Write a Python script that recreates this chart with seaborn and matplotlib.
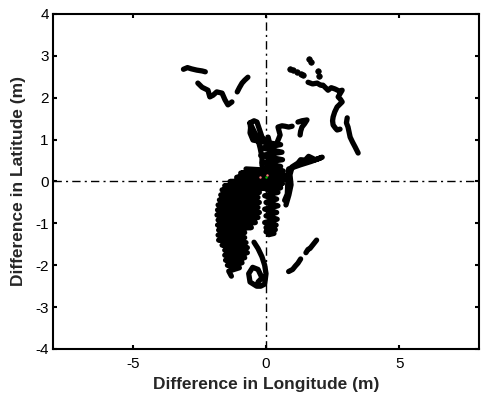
import matplotlib
matplotlib.use("Agg")
import matplotlib.pyplot as plt
import seaborn as sns

# --- trails (metres) ---
nw_bar_x = [-3.10, -2.95, -2.80, -2.60, -2.40, -2.28]
nw_bar_y = [2.68, 2.72, 2.69, 2.66, 2.64, 2.62]

nw_zig_x = [-2.56, -2.40, -2.18, -2.11, -1.99, -1.85, -1.65, -1.54, -1.43, -1.28]
nw_zig_y = [2.35, 2.25, 2.18, 2.02, 2.06, 2.14, 2.11, 1.95, 1.83, 1.90]

nw_dash_x = [-1.08, -1.00, -0.90, -0.80, -0.68]
nw_dash_y = [2.14, 2.24, 2.35, 2.42, 2.49]

ne_dots_x = [0.90, 1.02, 1.17, 1.30, 1.39, 1.62, 1.68, 1.95, 2.00]
ne_dots_y = [2.68, 2.66, 2.61, 2.57, 2.54, 2.93, 2.86, 2.63, 2.52]

ne_main_x = [1.58, 1.75, 1.92, 2.05, 2.14, 2.33, 2.45, 2.59, 2.75, 2.86, 2.71, 2.80, 2.86,
             2.67, 2.58, 2.52, 2.50, 2.52, 2.60, 2.67, 2.78]
ne_main_y = [2.37, 2.33, 2.35, 2.30, 2.30, 2.18, 2.24, 2.21, 2.16, 2.18, 2.02, 1.96, 1.90,
             1.78, 1.66, 1.54, 1.45, 1.35, 1.28, 1.23, 1.25]

ne_tail_x = [3.05, 3.02, 3.08, 3.12, 3.16, 3.25, 3.35, 3.46]
ne_tail_y = [1.52, 1.40, 1.30, 1.18, 1.06, 0.94, 0.82, 0.68]

q_loop_x = [-0.60, -0.45, -0.34, -0.25, -0.15, -0.04, -0.25, -0.49, -0.60, -0.58, -0.60,
            -0.30, -0.22, -0.15, -0.15, -0.10]
q_loop_y = [1.40, 1.45, 1.42, 1.25, 1.06, 0.99, 0.96, 0.99, 1.16, 1.28, 1.40,
            1.00, 0.80, 0.58, 0.39, 0.30]

s_curve_x = [0.08, 0.15, 0.23, 0.41, 0.53, 0.45, 0.60, 0.71, 0.85, 0.98]
s_curve_y = [1.06, 0.88, 0.75, 0.92, 1.11, 1.30, 1.33, 1.32, 1.30, 1.32]

tau_x = [1.20, 1.35, 1.54, 1.45, 1.35, 1.30, 1.28]
tau_y = [1.42, 1.45, 1.47, 1.38, 1.30, 1.20, 1.11]

neck_x = [-0.20, 0.55, -0.15, 0.60, -0.20, 0.62, -0.15, 0.55, -0.10]
neck_y = [0.95, 0.88, 0.80, 0.70, 0.62, 0.52, 0.45, 0.36, 0.30]

core_x = [-0.75, 0.65, -0.95, 0.70, -1.10, 0.68, -1.35, 0.62, -1.55, 0.55, -1.65, -0.25,
          -1.70, -0.30, -1.75, -0.25, -1.80, -0.30, -1.82, -0.25, -1.84, -0.30, -1.80,
          -0.40, -1.82, -0.55, -1.78, -0.80, -1.80, -0.80, -1.78, -0.75, -1.65, -0.70,
          -1.55, -0.70, -1.55, -0.80, -1.52, -0.90, -1.45, -1.00, -1.40, -1.30]
core_y = [0.30, 0.25, 0.20, 0.15, 0.10, 0.05, 0.00, -0.05, -0.10, -0.15, -0.20, -0.26,
          -0.32, -0.38, -0.44, -0.50, -0.56, -0.62, -0.68, -0.74, -0.80, -0.86, -0.92,
          -0.98, -1.04, -1.10, -1.16, -1.22, -1.28, -1.34, -1.40, -1.46, -1.52, -1.58,
          -1.64, -1.70, -1.76, -1.82, -1.88, -1.94, -2.00, -2.06, -2.14, -2.26]

column_x = [0.00, 0.50, 0.00, 0.55, -0.05, 0.50, 0.00, 0.45, -0.05, 0.40, 0.00, 0.45,
            -0.05, 0.40, 0.00, 0.42, -0.05, 0.38, 0.00, 0.35, 0.00, 0.30, 0.10]
column_y = [0.30, 0.22, 0.14, 0.06, -0.02, -0.10, -0.18, -0.26, -0.34, -0.42, -0.50, -0.58,
            -0.66, -0.74, -0.82, -0.90, -0.98, -1.04, -1.10, -1.15, -1.20, -1.24, -1.27]

east_x = [0.75, 0.86, 0.94, 0.90, 0.98, 1.20, 1.30, 1.47, 1.60, 1.73, 1.85, 1.95, 2.11,
          1.70, 1.30, 0.85, 0.82, 0.80, 0.70]
east_y = [-0.56, -0.32, -0.08, 0.16, 0.35, 0.44, 0.52, 0.51, 0.60, 0.56, 0.52, 0.54, 0.58,
          0.48, 0.40, 0.30, 0.00, -0.30, -0.45]

bottom_loop_x = [-0.45, -0.30, -0.15, -0.05, 0.00, -0.05, -0.20, -0.35, -0.60, -0.65, -0.50,
                 -0.30, -0.15, -0.30]
bottom_loop_y = [-1.45, -1.60, -1.80, -2.00, -2.20, -2.45, -2.50, -2.50, -2.40, -2.20, -2.05,
                 -2.10, -2.30, -2.40]

se_short_x = [0.85, 1.00, 1.10, 1.20, 1.30]
se_short_y = [-2.15, -2.10, -2.02, -1.95, -1.85]

se_far_x = [1.50, 1.58, 1.65, 1.80, 1.90]
se_far_y = [-1.70, -1.62, -1.60, -1.48, -1.40]

ref_red_x = [0.04, -0.23]
ref_red_y = [0.15, 0.11]
ref_green_x = [0.00]
ref_green_y = [0.11]

trails = [
    (nw_bar_x, nw_bar_y), (nw_zig_x, nw_zig_y), (nw_dash_x, nw_dash_y),
    (ne_main_x, ne_main_y), (ne_tail_x, ne_tail_y),
    (q_loop_x, q_loop_y), (s_curve_x, s_curve_y), (tau_x, tau_y), (neck_x, neck_y),
    (core_x, core_y), (column_x, column_y), (east_x, east_y),
    (bottom_loop_x, bottom_loop_y), (se_short_x, se_short_y), (se_far_x, se_far_y),
]

sns.set_style("ticks")
plt.rcParams["font.family"] = ["Liberation Sans", "DejaVu Sans"]
plt.rcParams["axes.unicode_minus"] = False

fig = plt.figure(figsize=(4.84, 4.0), dpi=100)
ax = fig.add_axes([0.1095, 0.1275, 0.8802, 0.8375])

for tx, ty in trails:
    sns.lineplot(x=tx, y=ty, sort=False, estimator=None, color="black", lw=3.8,
                 solid_capstyle="round", solid_joinstyle="round", ax=ax)

sns.scatterplot(x=ne_dots_x, y=ne_dots_y, color="black", s=16, edgecolor="black",
                linewidth=0.5, ax=ax)
sns.scatterplot(x=ref_red_x, y=ref_red_y, color="#ff8080", s=3, linewidth=0, ax=ax, zorder=5)
sns.scatterplot(x=ref_green_x, y=ref_green_y, color="#00c000", s=3, linewidth=0, ax=ax, zorder=5)

ax.axhline(0, color="black", lw=1.0, ls=(0, (6, 3, 1.5, 3)), zorder=4)
ax.axvline(0, color="black", lw=1.0, ls=(0, (6, 3, 1.5, 3)), zorder=4)

ax.set_xlim(-8, 8)
ax.set_ylim(-4, 4)
ax.set_xticks([-5, 0, 5])
ax.set_yticks([-4, -3, -2, -1, 0, 1, 2, 3, 4])
ax.tick_params(direction="in", length=3, width=1.5, top=True, right=True,
               labelsize=11, colors="black")
ax.tick_params(axis="x", pad=6)
ax.tick_params(axis="y", pad=3)
for sp in ax.spines.values():
    sp.set_visible(True)
    sp.set_linewidth(1.5)
    sp.set_color("black")

ax.set_xlabel("Difference in Longitude (m)", fontsize=12.5, fontweight="bold", labelpad=4)
ax.set_ylabel("Difference in Latitude (m)", fontsize=12.5, fontweight="bold", labelpad=7)

fig.savefig("out.png", dpi=100)
